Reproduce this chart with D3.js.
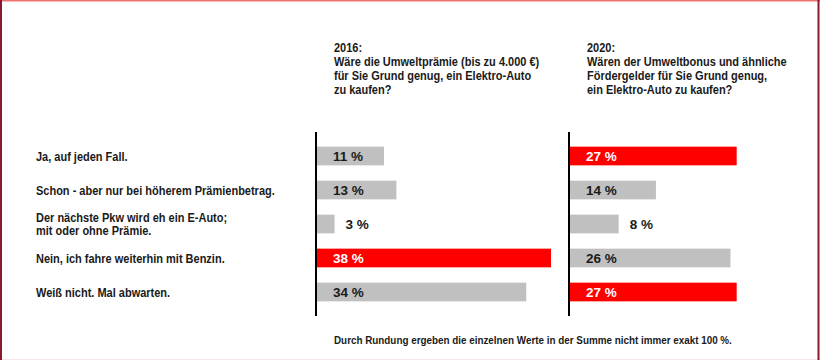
<!DOCTYPE html>
<html><head><meta charset="utf-8">
<script src="https://cdn.jsdelivr.net/npm/d3@7/dist/d3.min.js"></script>
<style>
html,body{margin:0;padding:0;background:#fff;}
svg{display:block;}
text{font-family:"Liberation Sans","Arial",sans-serif;font-weight:bold;fill:#1a1a1a;}
</style></head><body>
<svg id="chart" width="820" height="360"></svg>
<script>
const categories = [
  ["Ja, auf jeden Fall."],
  ["Schon - aber nur bei höherem Prämienbetrag."],
  ["Der nächste Pkw wird eh ein E-Auto;", "mit oder ohne Prämie."],
  ["Nein, ich fahre weiterhin mit Benzin."],
  ["Weiß nicht. Mal abwarten."]
];
const values2016 = [11, 13, 3, 38, 34];
const values2020 = [27, 14, 8, 26, 27];
const highlight2016 = [false, false, false, true, false];
const highlight2020 = [true, false, false, false, true];
const title2016 = ["2016:", "Wäre die Umweltprämie (bis zu 4.000 €)", "für Sie Grund genug, ein Elektro-Auto", "zu kaufen?"];
const title2020 = ["2020:", "Wären der Umweltbonus und ähnliche", "Fördergelder für Sie Grund genug,", "ein Elektro-Auto zu kaufen?"];
const footnote = "Durch Rundung ergeben die einzelnen Werte in der Summe nicht immer exakt 100 %.";

const svg = d3.select("#chart");
const W = 820, H = 360;
const FS = 13, SX = 0.846;

// frame
svg.append("rect").attr("x",0).attr("y",0).attr("width",W).attr("height",1.5).attr("fill","#ef7272");
svg.append("rect").attr("x",0).attr("y",H-1).attr("width",W).attr("height",1).attr("fill","#fbe3e6");
svg.append("rect").attr("x",0).attr("y",0).attr("width",2).attr("height",H).attr("fill","#8c1830");
svg.append("rect").attr("x",W-2.5).attr("y",0).attr("width",2).attr("height",H).attr("fill","#8c1830");

const y = d3.scaleBand().domain(d3.range(categories.length)).range([139, 309]).paddingInner(0.45).paddingOuter(0.225);

const xL = d3.scaleLinear().domain([0, 38]).range([316, 551]);
const xR = d3.scaleLinear().domain([0, 38]).range([569, 805]);

// category labels
categories.forEach((lines, i) => {
  const cy = y(i) + y.bandwidth()/2;
  const g = svg.append("g").attr("transform", `translate(36,${cy}) scale(${SX},1)`);
  lines.forEach((l, j) => {
    g.append("text").attr("font-size", FS).attr("x", 0)
      .attr("y", 4.6 + (j - (lines.length-1)/2) * 13.6)
      .text(l);
  });
});

function panel(x, vals, hl, title) {
  const g = svg.append("g");
  g.selectAll("rect.bar").data(vals).join("rect")
    .attr("class","bar")
    .attr("x", x(0)).attr("y", (d,i) => y(i))
    .attr("width", d => x(d) - x(0)).attr("height", y.bandwidth())
    .attr("fill", (d,i) => hl[i] ? "#ff0000" : "#c0c0c0");
  g.selectAll("text.val").data(vals).join("text")
    .attr("class","val")
    .attr("x", d => d < 10 ? x(d) + 11 : x(0) + 17)
    .attr("y", (d,i) => y(i) + y.bandwidth()/2 + 5)
    .attr("font-size", 13.5)
    .style("fill", (d,i) => hl[i] ? "#ffffff" : "#1a1a1a")
    .text(d => d + " %");
  g.append("line").attr("x1", x(0)).attr("x2", x(0)).attr("y1", 132).attr("y2", 316)
    .attr("stroke", "#000").attr("stroke-width", 2);
  const tg = g.append("g").attr("transform", `translate(${x(0) + 18},0) scale(${SX},1)`);
  title.forEach((l, j) => {
    tg.append("text").attr("font-size", FS).attr("x", 0).attr("y", 52.5 + j*13.8).text(l);
  });
}
panel(xL, values2016, highlight2016, title2016);
panel(xR, values2020, highlight2020, title2020);

svg.append("g").attr("transform", "translate(334,344) scale(0.94,1)")
  .append("text").attr("font-size", 10.5).text(footnote);
</script>
</body></html>
